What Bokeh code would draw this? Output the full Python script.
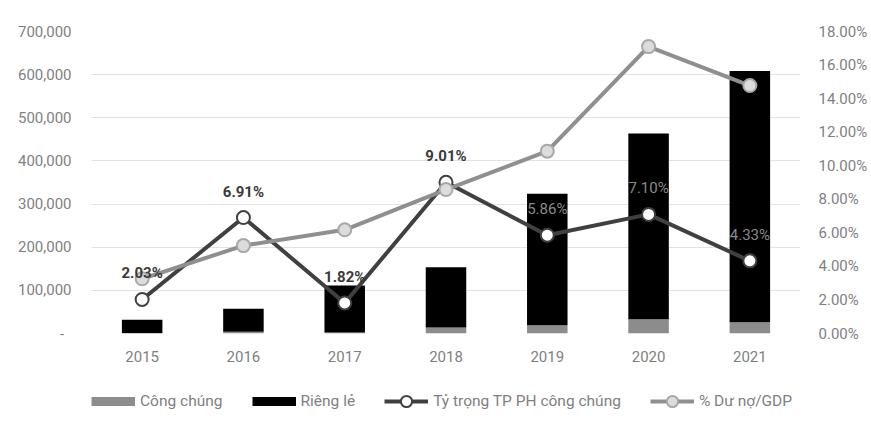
from bokeh.plotting import figure
from bokeh.layouts import column
from bokeh.models import (ColumnDataSource, FactorRange, Range1d, LinearAxis, FixedTicker,
                          NumeralTickFormatter, Legend, LegendItem)
from bokeh.core.properties import value
from bokeh.embed import file_html
from bokeh.resources import INLINE

years = ["2015", "2016", "2017", "2018", "2019", "2020", "2021"]
cong_chung = [650, 3960, 2030, 13860, 19000, 32900, 26350]
rieng_le = [31150, 53340, 109370, 139940, 305000, 430400, 582150]
ty_trong = [0.0203, 0.0691, 0.0182, 0.0901, 0.0586, 0.0710, 0.0433]
du_no_gdp = [0.0326, 0.0524, 0.0618, 0.0858, 0.1087, 0.1710, 0.1478]
ty_trong_labels = ["2.03%", "6.91%", "1.82%", "9.01%", "5.86%", "7.10%", "4.33%"]
left_ticks = [0, 100000, 200000, 300000, 400000, 500000, 600000, 700000]
left_tick_labels = ["-\u00a0\u00a0", "100,000", "200,000", "300,000", "400,000", "500,000", "600,000", "700,000"]
right_ticks = [0.0, 0.02, 0.04, 0.06, 0.08, 0.10, 0.12, 0.14, 0.16, 0.18]
series_names = ["Công chúng", "Riêng lẻ", "Tỷ trọng TP PH công chúng", "% Dư nợ/GDP"]

FONT = "Roboto"
TICK_COLOR = "#7f7f7f"
C_PUB, C_PRIV = "#8c8c8c", "#000000"
C_TT, C_GDP = "#404040", "#8f8f8f"
M_TT_FILL, M_GDP_FILL, M_GDP_LINE = "white", "#dcdcdc", "#a8a8a8"

src = ColumnDataSource(dict(year=years, cong_chung=cong_chung, rieng_le=rieng_le,
                            ty_trong=ty_trong, du_no_gdp=du_no_gdp, lbl=ty_trong_labels))

p = figure(x_range=FactorRange(*years), y_range=Range1d(0, 700000),
           width=871, height=381, output_backend="svg", toolbar_location=None,
           min_border_left=91, min_border_right=71, min_border_top=31, min_border_bottom=48)
p.extra_y_ranges = {"pct": Range1d(0, 0.18)}
p.outline_line_color = None

# axes
p.yaxis.ticker = FixedTicker(ticks=left_ticks)
p.yaxis.major_label_overrides = dict(zip(left_ticks, left_tick_labels))
for ax in [p.yaxis[0], p.xaxis[0]]:
    ax.axis_line_color = None
    ax.major_tick_line_color = None
    ax.minor_tick_line_color = None
    ax.major_tick_out = 0
    ax.major_label_text_font = FONT
    ax.major_label_text_font_size = "15px"
    ax.major_label_text_color = TICK_COLOR
p.yaxis.major_label_standoff = 20
p.xaxis.major_label_standoff = 17

rax = LinearAxis(y_range_name="pct", ticker=FixedTicker(ticks=right_ticks),
                 formatter=NumeralTickFormatter(format="0.00%"))
rax.axis_line_color = None
rax.major_tick_line_color = None
rax.minor_tick_line_color = None
rax.major_tick_out = 0
rax.major_label_standoff = 18
rax.major_label_text_font = FONT
rax.major_label_text_font_size = "15px"
rax.major_label_text_color = TICK_COLOR
p.add_layout(rax, "right")

p.xgrid.grid_line_color = None
p.ygrid.grid_line_color = "#e2e2e2"
p.ygrid.grid_line_width = 1

# bars
bars = p.vbar_stack(["cong_chung", "rieng_le"], x="year", width=0.4,
                    color=[C_PUB, C_PRIV], line_color=None, source=src)

# lines
r1 = p.line("year", "ty_trong", source=src, y_range_name="pct",
            line_color=C_TT, line_width=4)
s1 = p.scatter("year", "ty_trong", source=src, y_range_name="pct", size=13,
               fill_color=M_TT_FILL, line_color=C_TT, line_width=2)
r2 = p.line("year", "du_no_gdp", source=src, y_range_name="pct",
            line_color=C_GDP, line_width=4)
s2 = p.scatter("year", "du_no_gdp", source=src, y_range_name="pct", size=13,
               fill_color=M_GDP_FILL, line_color=M_GDP_LINE, line_width=2)

# data labels
src_a = ColumnDataSource(dict(year=years[:4], ty_trong=ty_trong[:4], lbl=ty_trong_labels[:4]))
src_b = ColumnDataSource(dict(year=years[4:], ty_trong=ty_trong[4:], lbl=ty_trong_labels[4:]))
p.text("year", "ty_trong", text="lbl", source=src_a, y_range_name="pct",
       text_align="center", text_baseline="middle", y_offset=-26,
       text_font=value(FONT), text_font_size="15px", text_font_style="bold",
       text_color="#3a3a3a")
p.text("year", "ty_trong", text="lbl", source=src_b, y_range_name="pct",
       text_align="center", text_baseline="middle", y_offset=-26,
       text_font=value(FONT), text_font_size="15px",
       text_color="#8a8a8a")

# legend strip: a second figure whose renderers fall outside its range (clipped),
# used only to draw legend swatches
lg = figure(x_range=FactorRange(*years), y_range=Range1d(2, 3),
            width=871, height=40, output_backend="svg", toolbar_location=None,
            min_border=0, x_axis_type=None, y_axis_type=None)
lg.outline_line_color = None
lg.xgrid.grid_line_color = None
lg.ygrid.grid_line_color = None
q1 = lg.line("year", "cong_chung", source=src, line_color=C_PUB, line_width=9)
q2 = lg.line("year", "rieng_le", source=src, line_color=C_PRIV, line_width=9)
q3 = lg.line("year", "ty_trong", source=src, line_color=C_TT, line_width=4)
q3m = lg.scatter("year", "ty_trong", source=src, fill_color=M_TT_FILL, line_color=C_TT, line_width=2)
q4 = lg.line("year", "du_no_gdp", source=src, line_color=C_GDP, line_width=4)
q4m = lg.scatter("year", "du_no_gdp", source=src, fill_color=M_GDP_FILL, line_color=M_GDP_LINE, line_width=2)

legend = Legend(items=[
    LegendItem(label=series_names[0], renderers=[q1]),
    LegendItem(label=series_names[1], renderers=[q2]),
    LegendItem(label=series_names[2], renderers=[q3, q3m]),
    LegendItem(label=series_names[3], renderers=[q4, q4m]),
], orientation="horizontal", location=(0, 6), glyph_width=44, glyph_height=28,
    label_standoff=5, spacing=29, padding=0, margin=0, border_line_color=None,
    background_fill_alpha=0, label_text_font=FONT, label_text_font_size="15.5px",
    label_text_color=TICK_COLOR, label_height=16)
lg.add_layout(legend, "center")

layout = column(p, lg, spacing=0)
open("out.html", "w").write(file_html(layout, INLINE))
